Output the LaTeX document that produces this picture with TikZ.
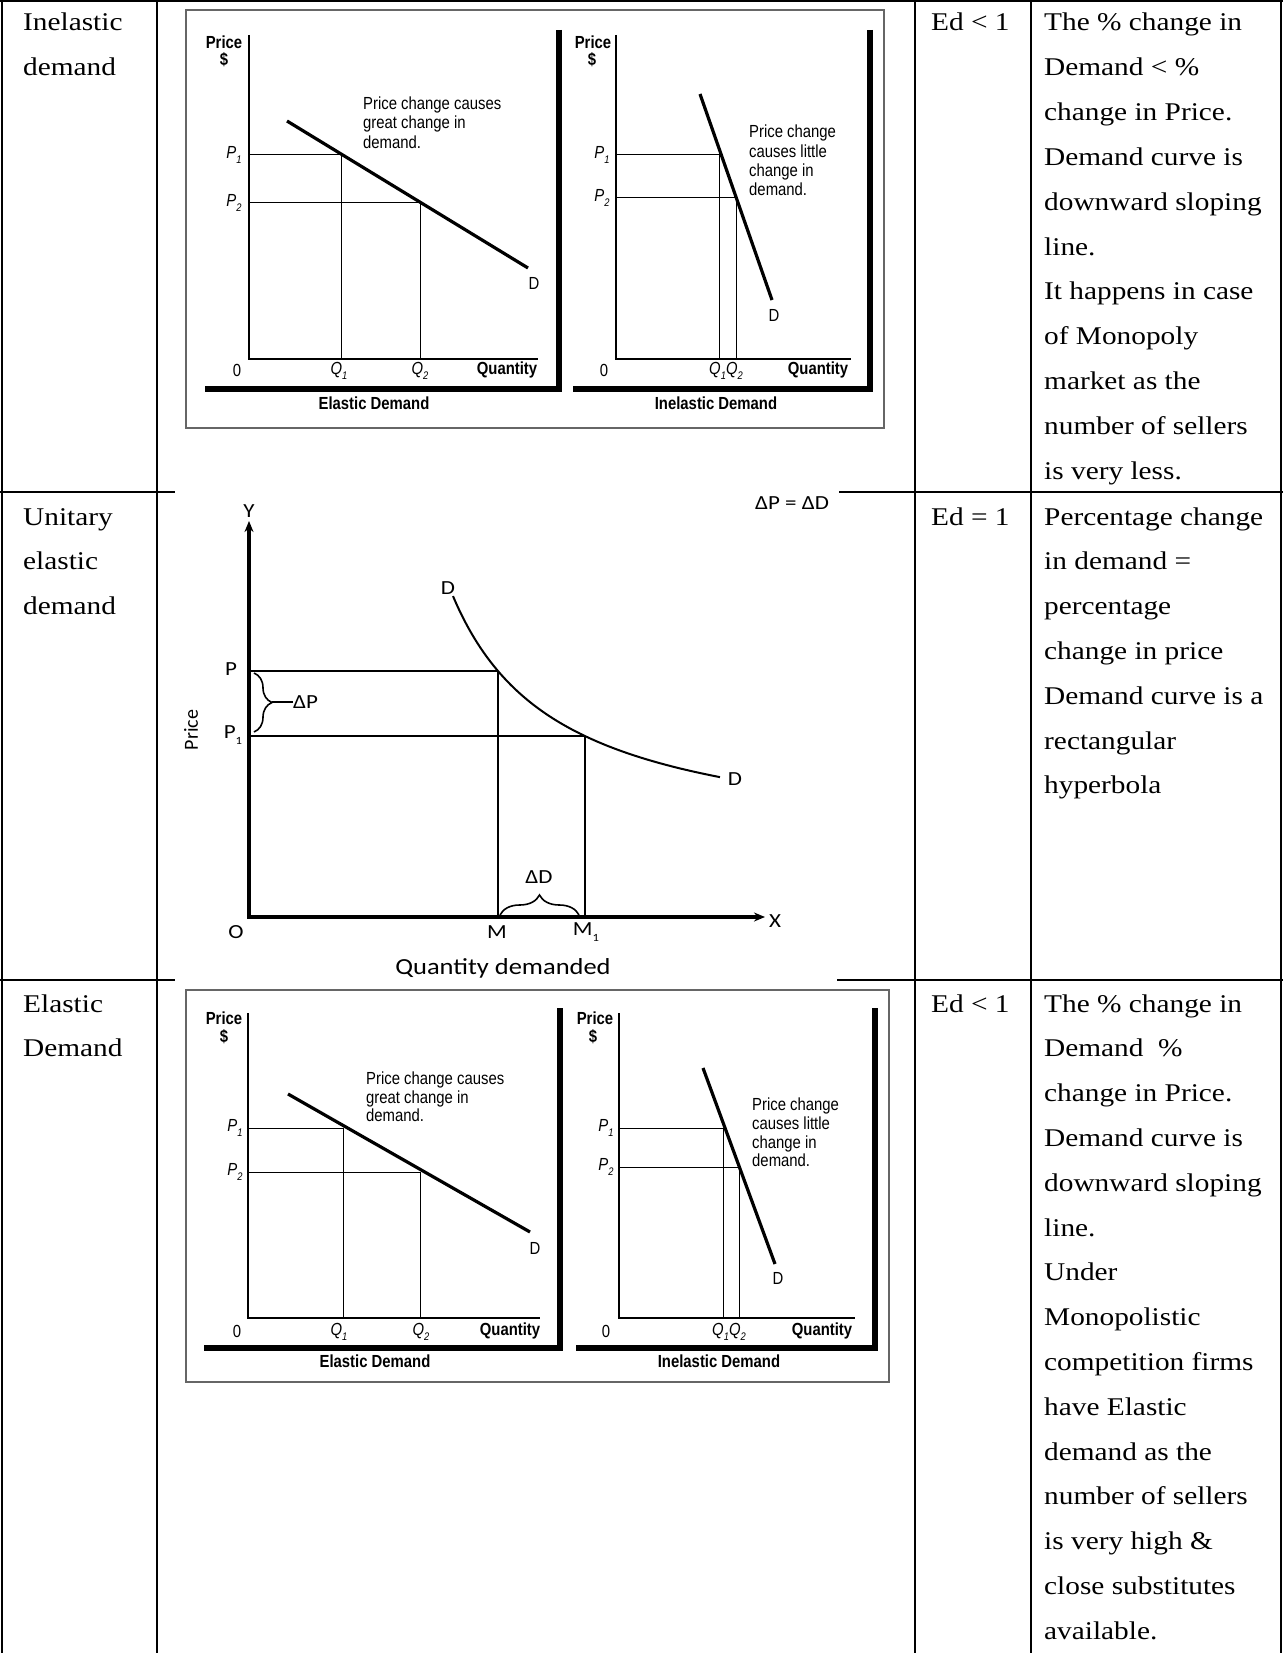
\documentclass[tikz,border=0pt]{standalone}
\usepackage{fontspec}
\usepackage{graphicx}
\setmainfont{Liberation Serif}
\newfontfamily\bodyfont[FakeStretch=1.15]{Liberation Serif}
\newfontfamily\chartfont[FakeStretch=0.85]{Liberation Sans}
\newfontfamily\midfont{Carlito}
\newfontfamily\midwide[FakeStretch=1.15]{Carlito}
\usetikzlibrary{arrows.meta,decorations.pathreplacing}
\newcommand\lsub[1]{\raisebox{-0.3em}{\fontsize{11}{11}\selectfont #1}}
\begin{document}
\begin{tikzpicture}[x=1pt,y=-1pt,
  tbl/.style={line width=2pt},
  chartbox/.style={draw=black!60, line width=1.5pt},
  axln/.style={line width=1.3pt},
  gline/.style={line width=1pt},
  heavy/.style={line width=6pt, line join=miter},
  dline/.style={line width=3.2pt},
  lab/.style={font=\chartfont\fontsize{17.5}{19.5}\selectfont, inner sep=0pt},
  blab/.style={font=\chartfont\bfseries\fontsize{17.5}{19.5}\selectfont, inner sep=0pt},
  ilab/.style={font=\chartfont\itshape\fontsize{17.5}{19.5}\selectfont, inner sep=0pt},
  body/.style={font=\bodyfont\fontsize{25.5}{30}\selectfont, inner sep=0pt, anchor=base west},
  mlab/.style={font=\midwide\fontsize{20}{22}\selectfont, inner sep=0pt},
]
\fill[white] (0,0) rectangle (1283,1653);
\useasboundingbox (0,0) rectangle (1283,1653);

% ---------------- table grid ----------------
\draw[tbl] (0,1) -- (1283,1);
\foreach \cx in {2,157,915,1031,1281} \draw[tbl] (\cx,0) -- (\cx,1653);
\draw[tbl] (0,492) -- (175,492);
\draw[tbl] (839,492) -- (1283,492);
\draw[tbl] (0,980) -- (175,980);
\draw[tbl] (837,980) -- (1283,980);

% ---------------- column 1 ----------------
\node[body] (c1a) at (23,31) {Inelastic};
\node[body] (c1b) at (23,75.8) {demand};
\node[body] (c2a) at (23,525) {Unitary};
\node[body] (c2b) at (23,569.8) {elastic};
\node[body] (c2c) at (23,614.6) {demand};
\node[body] (c3a) at (23,1012) {Elastic};
\node[body] (c3b) at (23,1056.8) {Demand};

% ---------------- column 3 ----------------
\node[body] (ed1) at (931,31) {Ed < 1};
\node[body] (ed2) at (931,525) {Ed = 1};
\node[body] (ed3) at (931,1012) {Ed < 1};

% ---------------- column 4 ----------------
\foreach \t [count=\i] in {The \% change in, Demand < \%, change in Price., Demand curve is, downward sloping, line., It happens in case, of Monopoly, market as the, number of sellers, is very less.}
  \node[body] (ra\i) at (1044,{31+(\i-1)*44.8}) {\t};
\foreach \t [count=\i] in {Percentage change, in demand =, percentage, change in price, Demand curve is a, rectangular, hyperbola}
  \node[body] (rb\i) at (1044,{525+(\i-1)*44.8}) {\t};
\foreach \t [count=\i] in {The \% change in, Demand~~\%, change in Price., Demand curve is, downward sloping, line., Under, Monopolistic, competition firms, have Elastic, demand as the, number of sellers, is very high \&, close substitutes, available.}
  \node[body] (rc\i) at (1044,{1012+(\i-1)*44.8}) {\t};

% ---------------- row 1 chart ----------------
\draw[chartbox] (186,10) rectangle (884,428);
% left graph
\draw[axln] (249,35) -- (249,359) -- (538,359);
\draw[heavy] (559,30) -- (559,389) -- (205,389);
\node[blab] (a1price) at (224,42) {Price};
\node[blab] (a1dol) at (224,60) {\$};
\node[ilab] (a1p1) at (234,155) {P\lsub{1}};
\node[ilab] (a1p2) at (234,203) {P\lsub{2}};
\draw[gline] (249,155) -- (341,155) -- (341,359);
\draw[gline] (249,203) -- (420,203) -- (420,359);
\draw[dline] (287,121) -- (528,268);
\node[lab] (a1d) at (534,283) {D};
\node[lab,anchor=base west] (a1t1) at (363,110) {Price change causes};
\node[lab,anchor=base west] (a1t2) at (363,129) {great change in};
\node[lab,anchor=base west] (a1t3) at (363,149) {demand.};
\node[lab] (a1o) at (237,370) {0};
\node[ilab] (a1q1) at (339,371) {Q\lsub{1}};
\node[ilab] (a1q2) at (420,371) {Q\lsub{2}};
\node[blab] (a1qty) at (507,370) {Quantity};
\node[blab] (a1cap) at (374,403) {Elastic Demand};
% right graph
\draw[axln] (616,35) -- (616,359) -- (851,359);
\draw[heavy] (870,30) -- (870,389) -- (573,389);
\node[blab] (b1price) at (593,42) {Price};
\node[blab] (b1dol) at (592,60) {\$};
\node[ilab] (b1p1) at (602,155) {P\lsub{1}};
\node[ilab] (b1p2) at (602,198) {P\lsub{2}};
\draw[gline] (616,155) -- (719,155) -- (719,359);
\draw[gline] (616,198) -- (736,198) -- (736,359);
\draw[dline] (700,94) -- (772,300);
\node[lab] (b1d) at (774,315) {D};
\node[lab,anchor=base west] (b1t1) at (749,138) {Price change};
\node[lab,anchor=base west] (b1t2) at (749,158) {causes little};
\node[lab,anchor=base west] (b1t3) at (749,177) {change in};
\node[lab,anchor=base west] (b1t4) at (749,196) {demand.};
\node[lab] (b1o) at (604,370) {0};
\node[ilab] (b1q) at (726,371) {Q\lsub{1}Q\lsub{2}};
\node[blab] (b1qty) at (818,370) {Quantity};
\node[blab] (b1cap) at (716,403) {Inelastic Demand};

% ---------------- row 3 chart ----------------
\draw[chartbox] (186,990) rectangle (889,1382);
% left graph
\draw[axln] (248,1013) -- (248,1318) -- (540,1318);
\draw[heavy] (560,1008) -- (560,1348) -- (204,1348);
\node[blab] (a3price) at (224,1018) {Price};
\node[blab] (a3dol) at (224,1037) {\$};
\node[ilab] (a3p1) at (235,1128) {P\lsub{1}};
\node[ilab] (a3p2) at (235,1172) {P\lsub{2}};
\draw[gline] (248,1128) -- (343,1128) -- (343,1318);
\draw[gline] (248,1172) -- (420,1172) -- (420,1318);
\draw[dline] (288,1094) -- (530,1232);
\node[lab] (a3d) at (535,1248) {D};
\node[lab,anchor=base west] (a3t1) at (366,1084) {Price change causes};
\node[lab,anchor=base west] (a3t2) at (366,1103) {great change in};
\node[lab,anchor=base west] (a3t3) at (366,1121) {demand.};
\node[lab] (a3o) at (237,1331) {0};
\node[ilab] (a3q1) at (339,1332) {Q\lsub{1}};
\node[ilab] (a3q2) at (421,1332) {Q\lsub{2}};
\node[blab] (a3qty) at (510,1331) {Quantity};
\node[blab] (a3cap) at (375,1361) {Elastic Demand};
% right graph
\draw[axln] (619,1013) -- (619,1318) -- (855,1318);
\draw[heavy] (875,1008) -- (875,1348) -- (576,1348);
\node[blab] (b3price) at (595,1018) {Price};
\node[blab] (b3dol) at (593,1037) {\$};
\node[ilab] (b3p1) at (606,1128) {P\lsub{1}};
\node[ilab] (b3p2) at (606,1167) {P\lsub{2}};
\draw[gline] (619,1128) -- (723,1128) -- (723,1318);
\draw[gline] (619,1167) -- (739,1167) -- (739,1318);
\draw[dline] (703,1068) -- (775,1264);
\node[lab] (b3d) at (778,1278) {D};
\node[lab,anchor=base west] (b3t1) at (752,1110) {Price change};
\node[lab,anchor=base west] (b3t2) at (752,1129) {causes little};
\node[lab,anchor=base west] (b3t3) at (752,1148) {change in};
\node[lab,anchor=base west] (b3t4) at (752,1166) {demand.};
\node[lab] (b3o) at (606,1331) {0};
\node[ilab] (b3q) at (729,1332) {Q\lsub{1}Q\lsub{2}};
\node[blab] (b3qty) at (822,1331) {Quantity};
\node[blab] (b3cap) at (719,1361) {Inelastic Demand};

% ---------------- row 2 chart (unitary) ----------------
\coordinate (o) at (249,917);
\coordinate (ytip) at (249,521);
\coordinate (xtip) at (765,917);
\coordinate (pp) at (249,671);
\coordinate (pq) at (498,671);
\coordinate (p1p) at (249,736);
\coordinate (p1q) at (585,736);
\coordinate (m) at (498,917);
\coordinate (m1) at (585,917);
\draw[line width=4.5pt, line join=miter, {Stealth[length=11pt,width=9pt]}-{Stealth[length=11pt,width=9pt]}] (ytip) -- (o) -- (xtip);
\draw[line width=2pt] (pp) -- (pq);
\draw[line width=2pt] (p1p) -- (p1q);
\draw[line width=2.5pt] (pq) -- (m);
\draw[line width=2.5pt] (p1q) -- (m1);
\draw[line width=2pt] plot[domain=453:720, samples=70, smooth] (\x, {850 - 272.91/((\x-345.5)/100)});
\node[mlab] (ylab) at (249,511) {Y};
\node[mlab] (xlab) at (775,921) {X};
\node[mlab] (olab) at (236,932) {O};
\node[mlab] (mlabel) at (497,932) {M};
\node[mlab] (m1lab) at (586,932) {M\lsub{1}};
\node[mlab] (plab) at (231,669) {P};
\node[mlab] (p1lab) at (233,735) {P\lsub{1}};
\node[mlab] (dtop) at (448,588) {D};
\node[mlab] (dright) at (735,779) {D};
\draw[line width=1.6pt, decorate, decoration={brace, amplitude=18pt}] (254,673) -- (254,732);
\node[mlab, anchor=west] (dP) at (293,702) {ΔP};
\draw[line width=1.6pt] (272,702) -- (dP.west);
\draw[line width=1.6pt, decorate, decoration={brace, amplitude=20pt}] (500,915) -- (579,915);
\node[mlab] (dD) at (539,877) {ΔD};
\node[mlab] (eq) at (792,503) {ΔP = ΔD};
\node[font=\midfont\fontsize{20}{22}\selectfont, inner sep=0pt, rotate=90] (pricey) at (191,730) {Price};
\node[font=\midwide\fontsize{23}{25}\selectfont, inner sep=0pt] (qd) at (503,968) {Quantity demanded};
\end{tikzpicture}
\end{document}
